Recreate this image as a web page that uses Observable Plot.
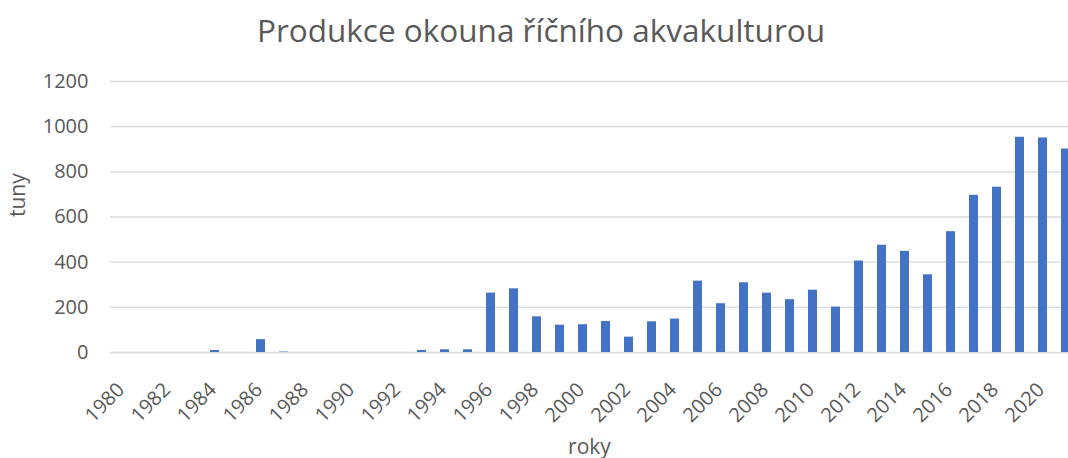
<!DOCTYPE html>
<html><head><meta charset="utf-8">
<script src="https://cdn.jsdelivr.net/npm/d3@7"></script>
<script src="https://cdn.jsdelivr.net/npm/@observablehq/plot@0.6"></script>
<style>
html,body{margin:0;padding:0;background:#fff;}
#title{height:62px;line-height:60px;text-align:center;font-family:"Open Sans",sans-serif;font-size:31.5px;color:#595959;padding-left:14px;box-sizing:border-box;white-space:nowrap;}
#chart svg{display:block;}
</style></head><body>
<div id="title">Produkce okouna říčního akvakulturou</div>
<div id="chart"></div>
<script>
const years = [1980,1981,1982,1983,1984,1985,1986,1987,1988,1989,1990,1991,1992,1993,1994,1995,1996,1997,1998,1999,2000,2001,2002,2003,2004,2005,2006,2007,2008,2009,2010,2011,2012,2013,2014,2015,2016,2017,2018,2019,2020,2021];
const tonnes = [0,0,0,0,9,0,57,2,0,0,0,0,0,9,12,12,263,282,158,121,123,137,68,136,148,316,216,309,263,234,276,201,405,475,448,344,535,696,732,953,950,901];
const xTickLabels = [1980,1982,1984,1986,1988,1990,1992,1994,1996,1998,2000,2002,2004,2006,2008,2010,2012,2014,2016,2018,2020];
const yTicks = [0,200,400,600,800,1000,1200];
const yTitle = "tuny";
const xTitle = "roky";

const data = years.map((y, i) => ({year: y, value: tonnes[i]}));
const textColor = "#595959";

const chart = Plot.plot({
  width: 1068,
  height: 396,
  marginTop: 19,
  marginBottom: 106,
  marginLeft: 110,
  marginRight: 0,
  style: {fontFamily: "Open Sans, sans-serif", fontSize: "20px", color: textColor, background: "white"},
  x: {type: "band", domain: years, range: [109.7, 1079], paddingInner: 0.62, paddingOuter: 0.31},
  y: {domain: [0, 1200]},
  marks: [
    Plot.gridY(yTicks, {stroke: "#d9d9d9", strokeOpacity: 1, strokeWidth: 1.4}),
    Plot.barY(data, {x: "year", y: "value", fill: "#4472C4"}),
    Plot.axisY(yTicks, {tickSize: 0, tickPadding: 22, fontSize: 20, fill: textColor, label: null, tickFormat: d => String(d)}),
    Plot.axisX(xTickLabels, {tickSize: 0, tickRotate: -45, tickPadding: 26, dy: 8, dx: -2, fontSize: 20, fill: textColor, label: null, tickFormat: d => String(d)}),
    Plot.text([yTitle], {frameAnchor: "left", dx: -92, rotate: -90, fontSize: 21, fill: textColor}),
    Plot.text([xTitle], {frameAnchor: "bottom", dy: 101, fontSize: 21, fill: textColor})
  ]
});
document.getElementById("chart").appendChild(chart);
</script>
</body></html>
